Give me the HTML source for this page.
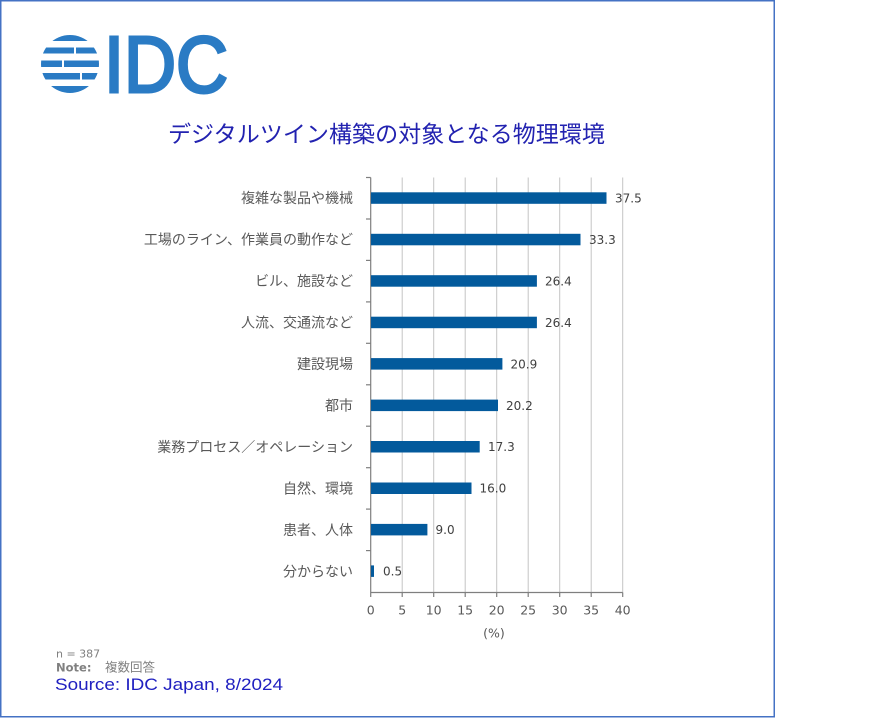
<!DOCTYPE html>
<html><head><meta charset="utf-8"><style>
html,body{margin:0;padding:0;background:#fff;}
svg{display:block;}
</style></head><body>
<svg width="888" height="722" viewBox="0 0 888 722" xmlns="http://www.w3.org/2000/svg">
<rect x="0" y="0" width="888" height="722" fill="#fff"/>
<rect x="0.75" y="0.75" width="773.5" height="716" fill="none" stroke="#4472C4" stroke-width="1.5"/>

<!-- logo -->
<defs><clipPath id="cc"><circle cx="70" cy="64" r="29"/></clipPath></defs>
<g clip-path="url(#cc)" fill="#2A7BC4">
  <rect x="40" y="35" width="62" height="6"/>
  <rect x="40" y="47.5" width="34" height="6"/><rect x="76" y="47.5" width="30" height="6"/>
  <rect x="40" y="60.5" width="22" height="6.5"/><rect x="64" y="60.5" width="40" height="6.5"/>
  <rect x="40" y="73" width="40" height="6.5"/><rect x="82" y="73" width="22" height="6.5"/>
  <rect x="40" y="86" width="62" height="7"/>
</g>
<text x="104" y="92" font-family="Liberation Sans, sans-serif" font-size="80" fill="#2A7BC4" stroke="#2A7BC4" stroke-width="3" textLength="124" lengthAdjust="spacingAndGlyphs">IDC</text>

<!-- title -->
<text x="168" y="142" font-family="Liberation Sans, 'Noto Sans CJK JP', sans-serif" font-size="23" fill="#2222B0" textLength="437" lengthAdjust="spacingAndGlyphs">デジタルツイン構築の対象となる物理環境</text>

<!-- gridlines -->
<g stroke="#C4C4C4" stroke-width="1">
  <line x1="402.2" y1="177.5" x2="402.2" y2="592.5"/>
  <line x1="433.7" y1="177.5" x2="433.7" y2="592.5"/>
  <line x1="465.2" y1="177.5" x2="465.2" y2="592.5"/>
  <line x1="496.7" y1="177.5" x2="496.7" y2="592.5"/>
  <line x1="528.2" y1="177.5" x2="528.2" y2="592.5"/>
  <line x1="559.7" y1="177.5" x2="559.7" y2="592.5"/>
  <line x1="591.2" y1="177.5" x2="591.2" y2="592.5"/>
  <line x1="622.7" y1="177.5" x2="622.7" y2="592.5"/>
</g>
<!-- axes -->
<g stroke="#7F7F7F" stroke-width="1.2">
  <line x1="370.7" y1="177.5" x2="370.7" y2="592.5"/>
  <line x1="370.7" y1="592.5" x2="622.7" y2="592.5"/>
  <line x1="366" y1="177.5" x2="370.7" y2="177.5"/>
  <line x1="366" y1="219" x2="370.7" y2="219"/>
  <line x1="366" y1="260.4" x2="370.7" y2="260.4"/>
  <line x1="366" y1="301.9" x2="370.7" y2="301.9"/>
  <line x1="366" y1="343.3" x2="370.7" y2="343.3"/>
  <line x1="366" y1="384.8" x2="370.7" y2="384.8"/>
  <line x1="366" y1="426.2" x2="370.7" y2="426.2"/>
  <line x1="366" y1="467.7" x2="370.7" y2="467.7"/>
  <line x1="366" y1="509.1" x2="370.7" y2="509.1"/>
  <line x1="366" y1="550.6" x2="370.7" y2="550.6"/>
  <line x1="370.7" y1="592.5" x2="370.7" y2="597"/>
  <line x1="402.2" y1="592.5" x2="402.2" y2="597"/>
  <line x1="433.7" y1="592.5" x2="433.7" y2="597"/>
  <line x1="465.2" y1="592.5" x2="465.2" y2="597"/>
  <line x1="496.7" y1="592.5" x2="496.7" y2="597"/>
  <line x1="528.2" y1="592.5" x2="528.2" y2="597"/>
  <line x1="559.7" y1="592.5" x2="559.7" y2="597"/>
  <line x1="591.2" y1="592.5" x2="591.2" y2="597"/>
  <line x1="622.7" y1="592.5" x2="622.7" y2="597"/>
</g>

<!-- bars -->
<g fill="#035A9C">
  <rect x="371" y="192.3" width="235.5" height="11.5"/>
  <rect x="371" y="233.8" width="209.5" height="11.5"/>
  <rect x="371" y="275.2" width="165.9" height="11.5"/>
  <rect x="371" y="316.7" width="165.9" height="11.5"/>
  <rect x="371" y="358.1" width="131.4" height="11.5"/>
  <rect x="371" y="399.6" width="127" height="11.5"/>
  <rect x="371" y="441" width="108.7" height="11.5"/>
  <rect x="371" y="482.5" width="100.5" height="11.5"/>
  <rect x="371" y="523.9" width="56.4" height="11.5"/>
  <rect x="371" y="565.4" width="3" height="11.5"/>
</g>

<!-- value labels -->
<g font-family="'DejaVu Sans', Verdana, sans-serif" font-size="12" fill="#404040">
  <text x="615" y="202.5">37.5</text>
  <text x="589" y="244">33.3</text>
  <text x="545" y="285.4">26.4</text>
  <text x="545" y="326.9">26.4</text>
  <text x="510.5" y="368.3">20.9</text>
  <text x="506" y="409.8">20.2</text>
  <text x="488" y="451.2">17.3</text>
  <text x="479.5" y="492.7">16.0</text>
  <text x="435.5" y="534.1">9.0</text>
  <text x="383" y="575.6">0.5</text>
</g>

<!-- category labels -->
<g font-family="'Liberation Sans', 'Noto Sans CJK JP', sans-serif" font-size="14" fill="#595959" text-anchor="end">
  <text x="353" y="203">複雑な製品や機械</text>
  <text x="353" y="244.5">工場のライン、作業員の動作など</text>
  <text x="353" y="286">ビル、施設など</text>
  <text x="353" y="327.5">人流、交通流など</text>
  <text x="353" y="369">建設現場</text>
  <text x="353" y="410.5">都市</text>
  <text x="353" y="452">業務プロセス／オペレーション</text>
  <text x="353" y="493.5">自然、環境</text>
  <text x="353" y="535">患者、人体</text>
  <text x="353" y="576.5">分からない</text>
</g>

<!-- x tick labels -->
<g font-family="'DejaVu Sans', Verdana, sans-serif" font-size="12.5" fill="#595959" text-anchor="middle">
  <text x="370.7" y="614.5">0</text>
  <text x="402.2" y="614.5">5</text>
  <text x="433.7" y="614.5">10</text>
  <text x="465.2" y="614.5">15</text>
  <text x="496.7" y="614.5">20</text>
  <text x="528.2" y="614.5">25</text>
  <text x="559.7" y="614.5">30</text>
  <text x="591.2" y="614.5">35</text>
  <text x="622.7" y="614.5">40</text>
  <text x="494" y="637.5">(%)</text>
</g>

<!-- footer -->
<text x="56" y="657.5" font-family="'DejaVu Sans', Verdana, sans-serif" font-size="11" fill="#808080">n = 387</text>
<text x="56" y="671.5" font-family="'DejaVu Sans', Verdana, sans-serif" font-size="11.5" font-weight="bold" fill="#808080">Note:</text>
<text x="105" y="671.5" font-family="'Liberation Sans', 'Noto Sans CJK JP', sans-serif" font-size="12.5" fill="#808080">複数回答</text>
<text x="55" y="690" font-family="'Liberation Sans', sans-serif" font-size="17" fill="#2020C0" textLength="228" lengthAdjust="spacingAndGlyphs">Source: IDC Japan, 8/2024</text>
</svg>
</body></html>
